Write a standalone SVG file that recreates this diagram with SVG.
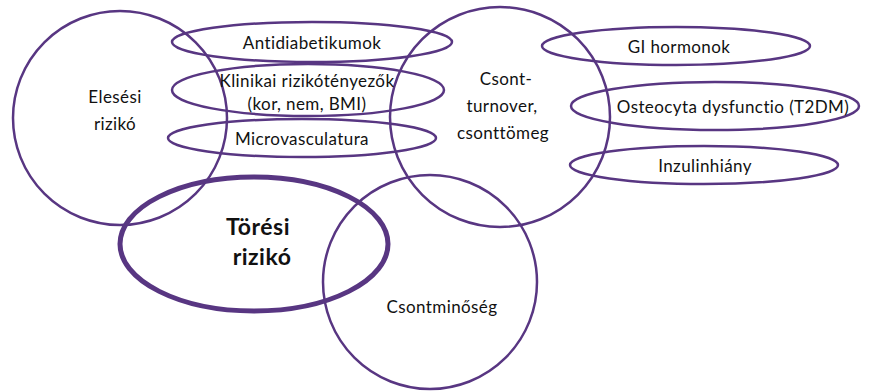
<svg xmlns="http://www.w3.org/2000/svg" width="878" height="392" viewBox="0 0 878 392">
<style>
.s{fill:none;stroke:#583682;stroke-width:2.5}
.t{font-family:"Lato","Liberation Sans",sans-serif;font-size:17px;letter-spacing:0.4px;fill:#111;text-anchor:middle}
.b{font-family:"Lato","Liberation Sans",sans-serif;font-size:23px;font-weight:bold;letter-spacing:0.5px;fill:#111;text-anchor:middle}
</style>
<rect width="878" height="392" fill="#fff"/>
<g id="eleses"><circle class="s" cx="120" cy="118" r="107"/><text class="t" x="115" y="103">Elesési</text><text class="t" x="115" y="130">rizikó</text></g>
<g id="csontturnover"><circle class="s" cx="500" cy="117" r="110"/><text class="t" x="506" y="85">Csont-</text><text class="t" x="502" y="112">turnover,</text><text class="t" x="503" y="139">csonttömeg</text></g>
<g id="csontminoseg"><circle class="s" cx="430" cy="282" r="107"/><text class="t" x="442" y="313">Csontminőség</text></g>
<g id="toresi"><ellipse cx="254" cy="244" rx="134" ry="67" fill="none" stroke="#583682" stroke-width="5"/><text class="b" x="258" y="235">Törési</text><text class="b" x="262" y="265">rizikó</text></g>
<g id="antidiabetikumok"><ellipse class="s" cx="312" cy="42" rx="140" ry="20"/><text class="t" x="312" y="49">Antidiabetikumok</text></g>
<g id="klinikai"><ellipse class="s" cx="308" cy="90" rx="136" ry="26"/><text class="t" x="307" y="87">Klinikai rizikótényezők</text><text class="t" x="307" y="110">(kor, nem, BMI)</text></g>
<g id="microvasculatura"><ellipse class="s" cx="302" cy="138" rx="134" ry="19"/><text class="t" x="302" y="145">Microvasculatura</text></g>
<g id="gi"><ellipse class="s" cx="676" cy="46" rx="134" ry="19"/><text class="t" x="679" y="53">GI hormonok</text></g>
<g id="osteocyta"><ellipse class="s" cx="715" cy="106" rx="144" ry="24"/><text class="t" x="733" y="113">Osteocyta dysfunctio (T2DM)</text></g>
<g id="inzulin"><ellipse class="s" cx="704" cy="165" rx="134" ry="19"/><text class="t" x="705" y="172">Inzulinhiány</text></g>
<g id="connectors"/>
</svg>
